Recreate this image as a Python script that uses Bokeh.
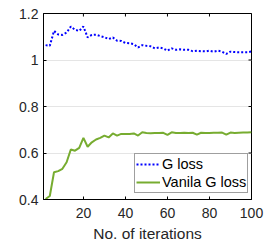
import math
from bokeh.plotting import figure
from bokeh.models import Legend, LegendItem, FixedTicker, Range1d
from bokeh.embed import file_html
from bokeh.resources import INLINE

iterations = list(range(2, 101, 2))
g_loss = [1.064, 1.061, 1.125, 1.110, 1.108, 1.118, 1.144, 1.130, 1.125, 1.144,
          1.097, 1.108, 1.109, 1.103, 1.098, 1.090, 1.097, 1.083, 1.082, 1.073,
          1.072, 1.068, 1.054, 1.064, 1.061, 1.059, 1.050, 1.054, 1.050, 1.040,
          1.050, 1.044, 1.046, 1.044, 1.044, 1.038, 1.040, 1.038, 1.037, 1.040,
          1.036, 1.040, 1.036, 1.026, 1.036, 1.034, 1.033, 1.033, 1.033, 1.037]
vanilla_g_loss = [0.402, 0.415, 0.517, 0.522, 0.532, 0.560, 0.615, 0.610, 0.622, 0.665,
                  0.627, 0.646, 0.658, 0.665, 0.675, 0.667, 0.684, 0.675, 0.682, 0.682,
                  0.682, 0.684, 0.675, 0.689, 0.686, 0.685, 0.686, 0.686, 0.687, 0.678,
                  0.689, 0.686, 0.686, 0.687, 0.686, 0.687, 0.679, 0.687, 0.686, 0.686,
                  0.687, 0.687, 0.688, 0.679, 0.688, 0.686, 0.687, 0.688, 0.688, 0.689]
x_ticks = [20, 40, 60, 80, 100]
y_ticks = [0.4, 0.6, 0.8, 1.0, 1.2]
y_tick_labels = {0.4: "0.4", 0.6: "0.6", 0.8: "0.8", 1.0: "1", 1.2: "1.2"}
x_min, x_max = 1, 100
y_min, y_max = 0.4, 1.2

FONT = "Liberation Sans"

p = figure(width=266, height=246, output_backend="svg", toolbar_location=None,
           x_range=Range1d(x_min, x_max), y_range=Range1d(y_min, y_max),
           min_border_left=43, min_border_right=15, min_border_top=13, min_border_bottom=47,
           x_axis_label="No. of iterations")
p.background_fill_color = "white"
p.outline_line_color = "black"
p.outline_line_width = 1

p.xgrid.visible = False
p.ygrid.ticker = FixedTicker(ticks=y_ticks)
p.ygrid.grid_line_color = "#e5e5e5"
p.ygrid.grid_line_width = 1

for ax in [p.xaxis[0], p.yaxis[0]]:
    ax.axis_line_color = "black"
    ax.major_tick_in = 3
    ax.major_tick_out = 0
    ax.minor_tick_line_color = None
    ax.major_tick_line_color = "black"
    ax.major_label_text_font = FONT
    ax.major_label_text_font_size = "14px"
    ax.major_label_text_color = "#262626"
    ax.axis_label_text_font = FONT
    ax.axis_label_text_font_size = "15.5px"
    ax.axis_label_text_font_style = "normal"
    ax.axis_label_text_color = "#262626"

p.xaxis[0].ticker = FixedTicker(ticks=x_ticks)
p.yaxis[0].ticker = FixedTicker(ticks=y_ticks)
p.yaxis[0].major_label_overrides = y_tick_labels
p.xaxis[0].major_label_standoff = 8
p.yaxis[0].major_label_standoff = 5
p.xaxis[0].axis_label_standoff = 4

# mirrored inward ticks on top and right (half of each dash is clipped by the frame)
p.scatter(x_ticks, [y_max] * len(x_ticks), marker="dash", size=6, angle=math.pi / 2,
          line_color="black", line_width=1)
p.scatter([x_max] * len(y_ticks), y_ticks, marker="dash", size=6,
          line_color="black", line_width=1)

r1 = p.line(iterations, g_loss, line_color="#0000ff", line_width=2, line_dash="2 2")
r2 = p.line(iterations, vanilla_g_loss, line_color="#77ac30", line_width=2)

legend = Legend(items=[LegendItem(label="G loss", renderers=[r1]),
                       LegendItem(label="Vanila G loss", renderers=[r2])],
                location=(91, 6), margin=0, padding=1, spacing=0,
                glyph_width=24, glyph_height=18, label_height=18, label_standoff=2,
                label_text_font=FONT, label_text_font_size="14.5px", label_text_color="black",
                border_line_color="#404040", border_line_width=1,
                background_fill_color="white", background_fill_alpha=1)
p.add_layout(legend)

open("out.html", "w").write(file_html(p, INLINE))
